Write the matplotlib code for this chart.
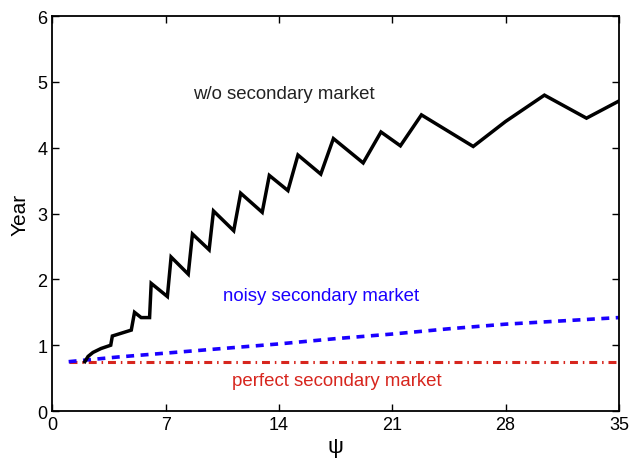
import matplotlib
matplotlib.use("Agg")
import matplotlib.pyplot as plt

plt.rcParams["font.family"] = ["Liberation Sans", "DejaVu Sans"]

# holding time (years) vs psi
psi_no_market = [2.0, 2.2, 2.5, 3.0, 3.6, 3.7, 4.87, 5.07, 5.48, 6.0, 6.1, 7.1, 7.33,
                 8.39, 8.65, 9.68, 9.95, 11.2, 11.63, 12.96, 13.4, 14.55, 15.17,
                 16.58, 17.36, 19.2, 20.3, 21.5, 22.8, 26.0, 28.0, 30.4, 33.0, 35.0]
year_no_market = [0.75, 0.83, 0.89, 0.95, 1.00, 1.14, 1.23, 1.50, 1.42, 1.42, 1.94, 1.74, 2.34,
                  2.08, 2.69, 2.45, 3.04, 2.74, 3.31, 3.02, 3.58, 3.35, 3.89,
                  3.60, 4.14, 3.77, 4.24, 4.03, 4.50, 4.02, 4.40, 4.80, 4.45, 4.71]

psi_noisy = [1, 4, 7, 10, 14, 17.5, 21, 24.5, 28, 31.5, 35]
year_noisy = [0.75, 0.82, 0.88, 0.94, 1.02, 1.10, 1.17, 1.25, 1.32, 1.37, 1.42]

psi_perfect = [1, 35]
year_perfect = [0.75, 0.75]

xticks = [0, 7, 14, 21, 28, 35]
yticks = [0, 1, 2, 3, 4, 5, 6]

fig = plt.figure(figsize=(6.3, 4.64), dpi=100)
ax = fig.add_axes([0.0833, 0.112, 0.899, 0.851])

ax.plot(psi_perfect, year_perfect, color="#d7261e", lw=2.2, dashes=(2.6, 1.6, 0.5, 1.6))
ax.plot(psi_noisy, year_noisy, color="#1a00ff", lw=2.6, dashes=(2.2, 1.8))
ax.plot(psi_no_market, year_no_market, color="black", lw=2.5, solid_joinstyle="miter")

ax.text(14.3, 4.82, "w/o secondary market", fontsize=13.4, color="#222222",
        ha="center", va="center")
ax.text(16.6, 1.76, "noisy secondary market", fontsize=13.4, color="#1a00ff",
        ha="center", va="center")
ax.text(17.6, 0.47, "perfect secondary market", fontsize=13.4, color="#d7261e",
        ha="center", va="center")

ax.set_xlim(0, 35)
ax.set_ylim(0, 6)
ax.set_xticks(xticks)
ax.set_yticks(yticks)
ax.tick_params(direction="in", top=True, right=True, labelsize=13, length=5, width=1)
for s in ax.spines.values():
    s.set_linewidth(1.3)
ax.set_xlabel("ψ", fontsize=16, labelpad=2)
ax.set_ylabel("Year", fontsize=15, labelpad=6)

fig.savefig("out.png", dpi=100)
